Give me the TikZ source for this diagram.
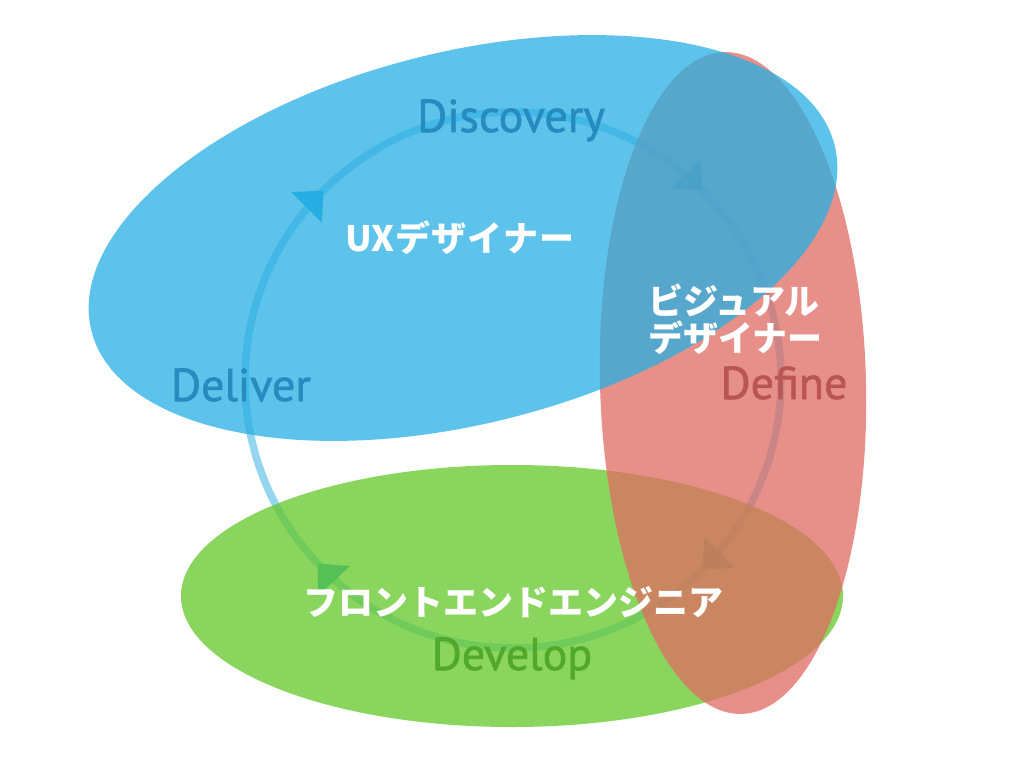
\documentclass[tikz,border=0pt]{standalone}
\usepackage{fontspec}
\setmainfont{PT Sans}
\newfontfamily\phasefont[FakeBold=1.3]{PT Sans}
\newfontfamily\jpfont{Noto Sans CJK JP}
\usetikzlibrary{arrows.meta,decorations.markings}
\definecolor{cBlue}{RGB}{40,175,227}
\definecolor{cRed}{RGB}{224,107,99}
\definecolor{cGreen}{RGB}{100,200,40}
\definecolor{cLine}{RGB}{148,213,240}
\definecolor{cArrow}{RGB}{41,171,226}
\definecolor{cDisc}{RGB}{38,140,192}
\definecolor{cDef}{RGB}{186,86,82}
\definecolor{cDev}{RGB}{82,168,42}
\tikzset{
  blob/.style={opacity=0.75},
  phase/.style={font=\phasefont\fontsize{46}{50}\selectfont, inner sep=0pt, anchor=base},
  role/.style={font=\jpfont\bfseries\fontsize{35}{37}\selectfont, text=white, inner sep=0pt},
  cycleline/.style={draw=cLine, line width=7.5pt}
}
\begin{document}
\begin{tikzpicture}[x=1pt,y=-1pt]
\useasboundingbox[fill=white] (0,0) rectangle (1024,768);
\coordinate (c) at (513,380);
% cycle with arrowheads (clockwise)
\draw[cycleline, postaction=decorate,
  decoration={markings,
    mark=at position 0.125 with {\arrow{Triangle[width=42pt,length=24pt,color=cArrow]}},
    mark=at position 0.38 with {\arrow{Triangle[width=42pt,length=24pt,color=cArrow]}},
    mark=at position 0.625 with {\arrow{Triangle[width=42pt,length=24pt,color=cArrow]}},
    mark=at position 0.875 with {\arrow{Triangle[width=42pt,length=24pt,color=cArrow]}}}]
  (c) ++(0:268pt) arc[start angle=360, end angle=0, radius=268pt];
% ellipses
\fill[blob, cGreen] (512,596) ellipse [x radius=331pt, y radius=131pt];
\fill[blob, cRed, rotate around={1.5:(733,383)}] (733,383) ellipse [x radius=133pt, y radius=331pt];
\fill[blob, cBlue, rotate around={14:(463,238)}] (463,238) ellipse [x radius=383pt, y radius=186pt];
% phase labels
\node[phase, text=cDisc] (disc) at (511,132) {Discovery};
\node[phase, text=cDisc] (deli) at (241,401) {Deliver};
\node[phase, text=cDef] (defi) at (784,399) {Define};
\node[phase, text=cDev] (deve) at (512,670) {Develop};
% roles
\node[role] (ux) at (460,238) {UX\kern1pt デ\kern1pt ザ\kern1pt イ\kern1pt ナ\kern1pt ー};
\node[role, align=left, anchor=west] (vis) at (648,319) {ビジュアル\\デザイナー};
\node[role] (fe) at (513,602) {フロントエンドエンジニア};
\end{tikzpicture}
\end{document}
